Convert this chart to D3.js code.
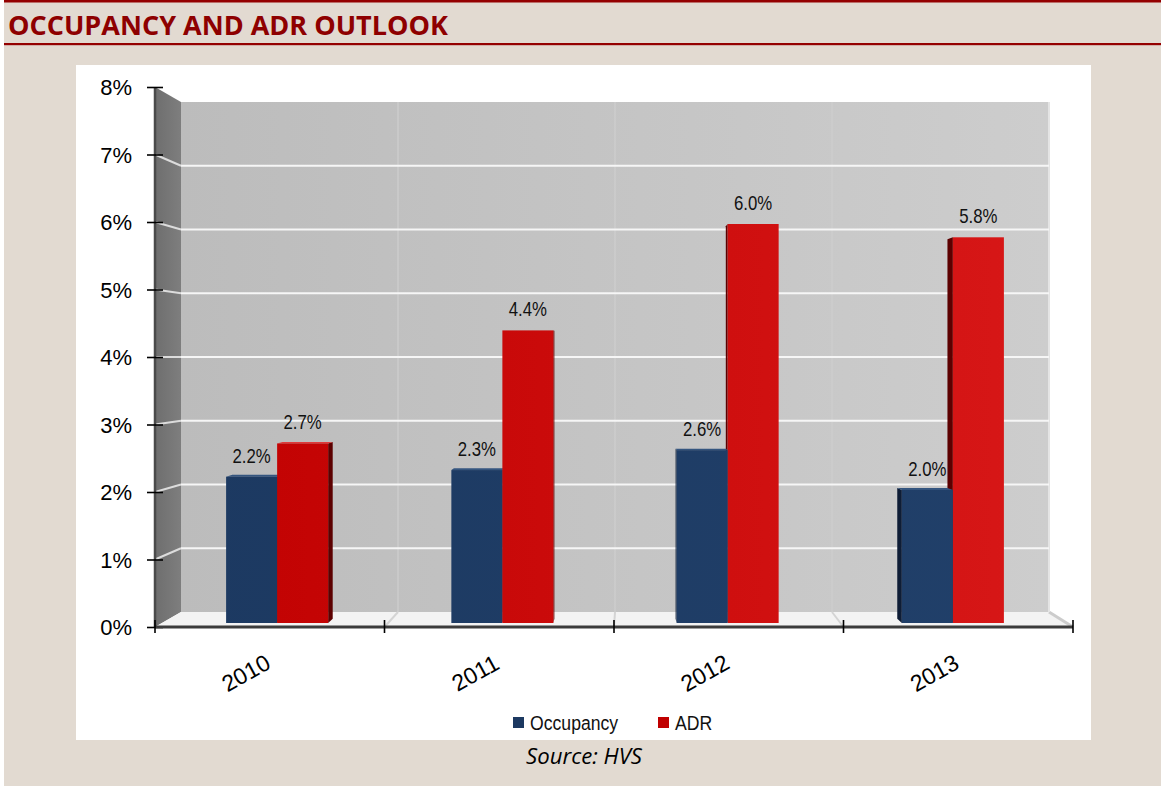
<!DOCTYPE html>
<html>
<head>
<meta charset="utf-8">
<script src="https://cdn.jsdelivr.net/npm/d3@7"></script>
<style>
  html, body { margin: 0; padding: 0; background: #ffffff; }
  svg { display: block; }
</style>
</head>
<body>
<svg id="chart" width="1161" height="786"></svg>
<script>
// Occupancy and ADR outlook, year-on-year change (%)
const years = ["2010", "2011", "2012", "2013"];
const occupancy = [2.2, 2.3, 2.6, 2.0];
const adr = [2.7, 4.4, 6.0, 5.8];
const seriesNames = ["Occupancy", "ADR"];
const yTicks = [0, 1, 2, 3, 4, 5, 6, 7, 8];
const yTickLabels = ["0%", "1%", "2%", "3%", "4%", "5%", "6%", "7%", "8%"];

const svg = d3.select("#chart");
const sans = "'Liberation Sans', Arial, sans-serif";

// condensed sans text: regular face squeezed horizontally
function narrowText(parent, x, y, str, size, anchor) {
  return parent.append("g").attr("transform", `translate(${x},${y}) scale(0.84,1)`)
    .append("text").attr("text-anchor", anchor || "start")
    .attr("font-family", sans).attr("font-size", size).attr("fill", "#111").text(str);
}

// page background and header
svg.append("rect").attr("x", 4).attr("y", 0).attr("width", 1157).attr("height", 786).attr("fill", "#e2dad1");
svg.append("rect").attr("x", 4).attr("y", 0).attr("width", 1157).attr("height", 2.5).attr("fill", "#940000");
svg.append("rect").attr("x", 4).attr("y", 43).attr("width", 1157).attr("height", 2.2).attr("fill", "#940000");
svg.append("text").attr("x", 8).attr("y", 35)
  .attr("font-family", "'Open Sans', 'Noto Sans', sans-serif").attr("font-weight", 700)
  .attr("font-size", 27).attr("fill", "#8e0000")
  .attr("textLength", 440).attr("lengthAdjust", "spacingAndGlyphs")
  .text("OCCUPANCY AND ADR OUTLOOK");

// white chart panel
svg.append("rect").attr("x", 76).attr("y", 65).attr("width", 1015).attr("height", 675).attr("fill", "#ffffff");

// 3-D frame scales: front plane, back wall, and the depth at which bars stand
const catDomain = [0, years.length];
const xFront = d3.scaleLinear().domain(catDomain).range([155, 1073]);
const xBack = d3.scaleLinear().domain(catDomain).range([181, 1049]);
const yFront = d3.scaleLinear().domain([0, 8]).range([627, 87]);
const yBack = d3.scaleLinear().domain([0, 8]).range([612, 102]);
const yBar = d3.scaleLinear().domain([0, 8]).range([623, 623 - 8 * 66.5]);

const xBand = d3.scaleBand().domain(years).range([164.5, 1065.5]).paddingInner(0.547).paddingOuter(0.2735);
const xSeries = d3.scaleBand().domain(seriesNames).range([0, xBand.bandwidth()]);

const defs = svg.append("defs");
const wallGrad = defs.append("linearGradient").attr("id", "wall").attr("x1", 0).attr("x2", 1).attr("y1", 0).attr("y2", 0);
wallGrad.append("stop").attr("offset", 0).attr("stop-color", "#bcbcbc");
wallGrad.append("stop").attr("offset", 1).attr("stop-color", "#cdcdcd");
const sideGrad = defs.append("linearGradient").attr("id", "side").attr("x1", 0).attr("x2", 1).attr("y1", 0).attr("y2", 0);
sideGrad.append("stop").attr("offset", 0).attr("stop-color", "#6e6e6e");
sideGrad.append("stop").attr("offset", 1).attr("stop-color", "#7e7e7e");
const redGrad = defs.append("linearGradient").attr("id", "redFront").attr("gradientUnits", "userSpaceOnUse")
  .attr("x1", 160).attr("x2", 1070).attr("y1", 0).attr("y2", 0);
redGrad.append("stop").attr("offset", 0).attr("stop-color", "#c00000");
redGrad.append("stop").attr("offset", 1).attr("stop-color", "#d81818");
const navyGrad = defs.append("linearGradient").attr("id", "navyFront").attr("gradientUnits", "userSpaceOnUse")
  .attr("x1", 160).attr("x2", 1070).attr("y1", 0).attr("y2", 0);
navyGrad.append("stop").attr("offset", 0).attr("stop-color", "#1c3961");
navyGrad.append("stop").attr("offset", 1).attr("stop-color", "#21406a");

const poly = pts => pts.map(p => p.join(",")).join(" ");
const frame = svg.append("g");

// back wall
frame.append("polygon").attr("points", poly([
  [xBack(0), yBack(8)], [xBack(4), yBack(8)], [xBack(4), yBack(0)], [xBack(0), yBack(0)]
])).attr("fill", "url(#wall)");
// left side wall
frame.append("polygon").attr("points", poly([
  [xFront(0), yFront(8)], [xBack(0), yBack(8)], [xBack(0), yBack(0)], [xFront(0), yFront(0)]
])).attr("fill", "url(#side)");
// floor
frame.append("polygon").attr("points", poly([
  [xFront(0), yFront(0)], [xBack(0), yBack(0)], [xBack(4), yBack(0)], [xFront(4), yFront(0)]
])).attr("fill", "#f3f3f3");

// faint category separators on the back wall and floor
years.forEach((_, i) => {
  if (i === 0) return;
  frame.append("line").attr("x1", xBack(i)).attr("x2", xBack(i)).attr("y1", yBack(8)).attr("y2", yBack(0))
    .attr("stroke", "#cfcfcf").attr("stroke-width", 1.2);
  frame.append("line").attr("x1", xFront(i)).attr("y1", yFront(0)).attr("x2", xBack(i)).attr("y2", yBack(0))
    .attr("stroke", "#d4d4d4").attr("stroke-width", 2);
});
frame.append("line").attr("x1", xFront(4)).attr("y1", yFront(0)).attr("x2", xBack(4)).attr("y2", yBack(0))
  .attr("stroke", "#cccccc").attr("stroke-width", 3);
frame.append("line").attr("x1", xBack(4)).attr("x2", xBack(4)).attr("y1", yBack(8)).attr("y2", yBack(0))
  .attr("stroke", "#e4e4e4").attr("stroke-width", 2);

// gridlines on back wall and side wall
yTicks.filter(v => v > 0 && v < 8).forEach(v => {
  frame.append("line").attr("x1", xBack(0)).attr("x2", xBack(4)).attr("y1", yBack(v)).attr("y2", yBack(v))
    .attr("stroke", "#f6f6f6").attr("stroke-width", 2);
  frame.append("line").attr("x1", xFront(0)).attr("y1", yFront(v)).attr("x2", xBack(0)).attr("y2", yBack(v))
    .attr("stroke", "#dcdcdc").attr("stroke-width", 2);
});

// value axis line and ticks
frame.append("line").attr("x1", xFront(0)).attr("x2", xFront(0)).attr("y1", yFront(8)).attr("y2", yFront(0))
  .attr("stroke", "#4a4a4a").attr("stroke-width", 2.5);
const yAxis = d3.axisLeft(yFront).tickValues(yTicks).tickFormat((d, i) => yTickLabels[i]).tickSize(0);
const yAxisG = svg.append("g").attr("transform", `translate(${xFront(0)},0)`).call(yAxis);
yAxisG.select(".domain").remove();
yAxisG.selectAll(".tick text").attr("x", -23).attr("dy", "0.35em")
  .attr("font-family", sans).attr("font-size", 22).attr("fill", "#000");
yAxisG.selectAll(".tick").append("line").attr("x1", -8).attr("x2", 8).attr("stroke", "#000").attr("stroke-width", 1.6);

// bars: front face plus perspective side and top faces
const vp = [614, 360];
const depth = 0.016;
const recede = p => [p[0] + (vp[0] - p[0]) * depth, p[1] + (vp[1] - p[1]) * depth];
const bars = [];
years.forEach((yr, i) => {
  bars.push({ year: yr, series: "Occupancy", value: occupancy[i] });
  bars.push({ year: yr, series: "ADR", value: adr[i] });
});
bars.forEach(b => {
  b.x0 = xBand(b.year) + xSeries(b.series);
  b.x1 = b.x0 + xSeries.bandwidth();
  b.y0 = yBar(b.value);
  b.y1 = yBar(0);
  b.dist = Math.abs((b.x0 + b.x1) / 2 - vp[0]);
});
bars.sort((a, b) => b.dist - a.dist);

const colors = {
  Occupancy: { front: "url(#navyFront)", side: "#0e1d36", top: "#34557f" },
  ADR: { front: "url(#redFront)", side: "#5c0000", top: "#e03a3a" }
};
const barG = svg.append("g");
bars.forEach(b => {
  const c = colors[b.series];
  const g = barG.append("g");
  const rightSide = (b.x0 + b.x1) / 2 < vp[0];
  const ex = rightSide ? b.x1 : b.x0;
  const sideTop = [ex, b.y0], sideBot = [ex, b.y1];
  g.append("polygon").attr("points", poly([sideTop, recede(sideTop), recede(sideBot), sideBot])).attr("fill", c.side);
  if (b.y0 > vp[1]) {
    const a = [b.x0, b.y0], z = [b.x1, b.y0];
    g.append("polygon").attr("points", poly([a, z, recede(z), recede(a)])).attr("fill", c.top);
  }
  g.append("rect").attr("x", b.x0).attr("y", b.y0).attr("width", b.x1 - b.x0).attr("height", b.y1 - b.y0)
    .attr("fill", c.front);
});

// value labels
const labelG = svg.append("g");
bars.forEach(b => {
  narrowText(labelG, (b.x0 + b.x1) / 2, b.y0 - 14, b.value.toFixed(1) + "%", 20, "middle");
});

// category axis
svg.append("line").attr("x1", xFront(0)).attr("x2", xFront(4)).attr("y1", yFront(0)).attr("y2", yFront(0))
  .attr("stroke", "#3c3c3c").attr("stroke-width", 3);
d3.range(years.length + 1).forEach(i => {
  svg.append("line").attr("x1", xFront(i)).attr("x2", xFront(i)).attr("y1", yFront(0) - 7).attr("y2", yFront(0) + 6)
    .attr("stroke", "#000").attr("stroke-width", 1.6);
});
years.forEach((yr, i) => {
  const cx = (xFront(i) + xFront(i + 1)) / 2 - 20;
  svg.append("text").attr("transform", `translate(${cx},${680}) rotate(-29)`)
    .attr("text-anchor", "middle").attr("font-family", sans).attr("font-size", 23).attr("fill", "#000")
    .text(yr);
});

// legend
const legend = svg.append("g");
const legendItems = [
  { name: seriesNames[0], color: "#1c3961", x: 513 },
  { name: seriesNames[1], color: "#c00000", x: 658 }
];
legendItems.forEach(d => {
  legend.append("rect").attr("x", d.x).attr("y", 717).attr("width", 11).attr("height", 11).attr("fill", d.color);
  narrowText(legend, d.x + 17, 730, d.name, 21);
});

// source note
svg.append("text").attr("x", 584).attr("y", 764).attr("text-anchor", "middle")
  .attr("font-family", "'Open Sans', 'Noto Sans', sans-serif").attr("font-style", "italic").attr("font-size", 21)
  .attr("fill", "#000").attr("textLength", 116).attr("lengthAdjust", "spacingAndGlyphs")
  .text("Source: HVS");
</script>
</body>
</html>
